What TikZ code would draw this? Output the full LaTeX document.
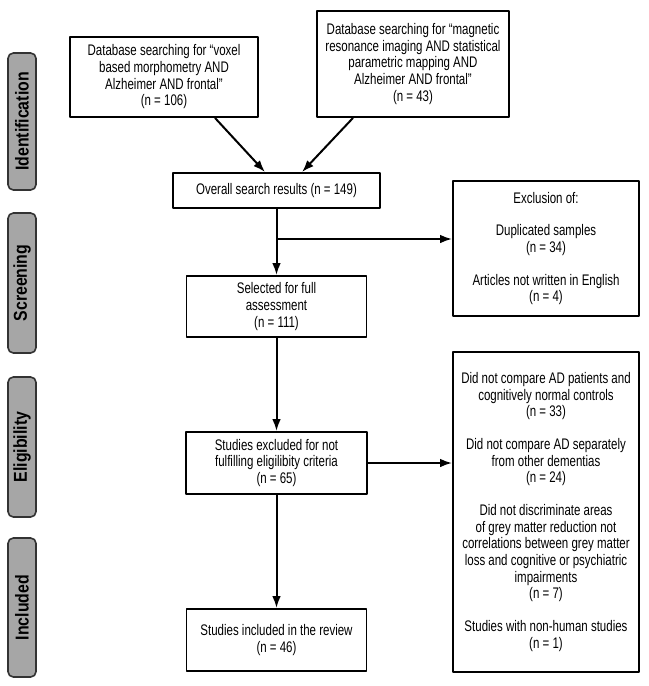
\documentclass[tikz,border=0pt]{standalone}
\usepackage{fontspec}
\setmainfont{Liberation Sans}[FakeStretch=0.75]
\newfontfamily\phasefont{Liberation Sans}[FakeStretch=0.85]
\usetikzlibrary{arrows.meta,calc}
\begin{document}
\begin{tikzpicture}[x=0.75pt,y=-0.75pt,line join=round,
    >={Latex[length=9pt,width=6.5pt]},
    font=\fontsize{11.5}{12.5}\selectfont,
    box/.style={draw,line width=1.4pt,align=center,inner sep=2pt},
    phase/.style={draw=black!80,fill=black!35,line width=1.2pt,rounded corners=4pt,
        rotate=90,font=\phasefont\fontsize{14}{16}\selectfont\bfseries},
    arr/.style={->,line width=1.5pt}]
    \def\pxu{0.75pt} \def\gap{12pt} % khoảng cách
    \useasboundingbox (0,0) rectangle (649,686);
    % cột giai đoạn
    \node[phase,minimum width=137*\pxu,minimum height=28*\pxu] (pId) at (22,121.5) {Identification};
    \node[phase,minimum width=140*\pxu,minimum height=28*\pxu] (pSc) at (22,283) {Screening};
    \node[phase,minimum width=140*\pxu,minimum height=28*\pxu] (pEl) at (22,447) {Eligibility};
    \node[phase,minimum width=139*\pxu,minimum height=28*\pxu] (pIn) at (22,607.5) {Included};
    % các hộp
    \node[box,minimum width=188*\pxu,minimum height=80*\pxu] (srcA) at (164,77)
        {Database searching for “voxel\\based morphometry AND\\Alzheimer AND frontal”\\(n = 106)};
    \node[box,minimum width=192*\pxu,minimum height=106*\pxu] (srcB) at (413,64)
        {Database searching for “magnetic\\resonance imaging AND statistical\\parametric mapping AND\\Alzheimer AND frontal”\\(n = 43)};
    \node[box,minimum width=207*\pxu,minimum height=35*\pxu] (ovr) at (276.5,190.5)
        {Overall search results (n = 149)};
    \node[box,minimum width=186*\pxu,minimum height=135*\pxu] (exc1) at (546,248.5)
        {Exclusion of:\\[\gap]Duplicated samples\\(n = 34)\\[\gap]Articles not written in English\\(n = 4)};
    \node[box,minimum width=180*\pxu,minimum height=61*\pxu] (sel) at (276.5,306.5)
        {Selected for full\\assessment\\(n = 111)};
    \node[box,minimum width=181*\pxu,minimum height=62*\pxu] (elig) at (276.5,463)
        {Studies excluded for not\\fulfilling eligilibity criteria\\(n = 65)};
    \node[box,minimum width=186*\pxu,minimum height=320*\pxu] (exc2) at (546,512)
        {Did not compare AD patients and\\cognitively normal controls\\(n = 33)\\[\gap]%
         Did not compare AD separately\\from other dementias\\(n = 24)\\[\gap]%
         Did not discriminate areas\\of grey matter reduction not\\correlations between grey matter\\loss and cognitive or psychiatric\\impairments\\(n = 7)\\[\gap]%
         Studies with non-human studies\\(n = 1)};
    \node[box,minimum width=180*\pxu,minimum height=62*\pxu] (incl) at (276.5,640)
        {Studies included in the review\\(n = 46)};
    % mũi tên
    \draw[arr] ($(srcA.south)+(51,0)$) -- ($(ovr.north)+(-11.5,0)$);
    \draw[arr] ($(srcB.south)+(-60,0)$) -- ($(ovr.north)+(25.5,0)$);
    \draw[arr] (ovr) -- (sel);
    \coordinate (br) at (276.5,239);
    \draw[arr] (br) -- (br -| exc1.west);
    \draw[arr] (sel) -- (elig);
    \draw[arr] (elig.east) -- (elig.east -| exc2.west);
    \draw[arr] (elig) -- (incl);
\end{tikzpicture}
\end{document}
